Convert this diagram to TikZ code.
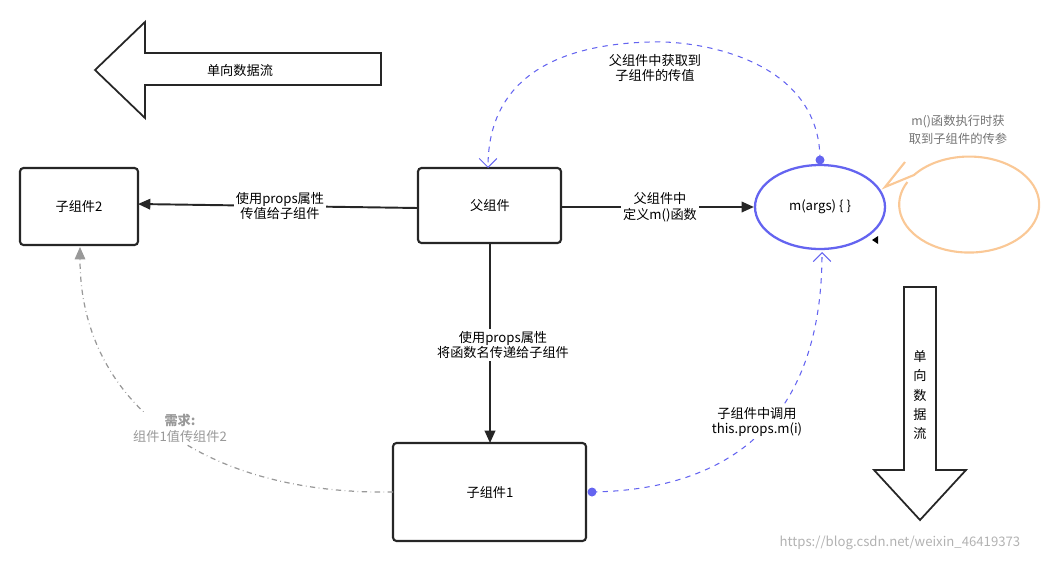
\documentclass[tikz,border=0pt]{standalone}
\usepackage{fontspec}
\setmainfont{Noto Sans CJK SC}
\usetikzlibrary{arrows.meta,shapes.geometric}
\definecolor{bl}{RGB}{100,100,240}
\definecolor{org}{RGB}{250,200,150}
\begin{document}
\begin{tikzpicture}[x=0.02cm,y=-0.02cm,
  box/.style={draw=black!85,line width=1.2pt,rounded corners=2pt},
  lbl/.style={fill=white,inner sep=1pt,align=center,font=\fontsize{7.5}{9}\selectfont},
  con/.style={line width=1.1pt,black!85,-{Triangle[length=7pt,width=6pt]}},
  blu/.style={dashed,draw=bl,line width=0.6pt},
  big/.style={draw=black!85,line width=1pt,fill=white}]
\useasboundingbox (0,0) rectangle (1050,561);
% arrows
\draw[big] (95,70) -- (145,22) -- (145,53) -- (381,53) -- (381,85) -- (145,85) -- (145,118) -- cycle;
\node[font=\fontsize{7.5}{9}\selectfont] (t1) at (240,70) {单向数据流};
\draw[big] (904,287) -- (936,287) -- (936,470) -- (966,470) -- (920,520) -- (874,470) -- (904,470) -- cycle;
\node[align=center,font=\fontsize{7.5}{11}\selectfont] (t2) at (920,395) {单\\向\\数\\据\\流};
% nodes
\draw[box] (20,168) rectangle (138,245); \node (c2) at (79,206) {\fontsize{7.5}{9}\selectfont 子组件2};
\draw[box] (418,168) rectangle (561,243); \node (p) at (490,206) {\fontsize{7.5}{9}\selectfont 父组件};
\draw[box] (393,443) rectangle (586,541); \node (c1) at (490,492) {\fontsize{7.5}{9}\selectfont 子组件1};
\node[ellipse,draw=bl,line width=1.3pt,inner sep=0pt,minimum width=2.6cm,minimum height=1.68cm,font=\fontsize{7.5}{9}\selectfont] (m) at (820,207) {m(args) \{ \}};
% bubble
\draw[draw=org,line width=1.2pt,fill=white]
  (905,162) -- (885,187) -- (914,175) arc[start angle=-142,end angle=208,x radius=70,y radius=48];
\node[align=center,text=black!55,font=\fontsize{7}{10}\selectfont] (b) at (958,130) {m()函数执行时获\\取到子组件的传参};
\fill[black] (872,240) -- (878,236) -- (878,244) -- cycle;
% connectors
\draw[con] (418,208) -- (138,204);
\node[lbl] at (280,206) {使用props属性\\传值给子组件};
\draw[con] (561,207) -- (m.west);
\node[lbl] at (660,207) {父组件中\\定义m()函数};
\draw[con] (490,243) -- (490,443);
\node[lbl] at (503,345) {使用props属性\\将函数名传递给子组件};
\draw[blu,-{Straight Barb[length=5pt]}] (820,160) .. controls (820,60) and (700,40) .. (650,42) .. controls (540,45) and (488,90) .. (488,168);
\fill[bl] (820,160) circle (4.5);
\node[lbl] at (655,68) {父组件中获取到\\子组件的传值};
\draw[blu,-{Straight Barb[length=5pt]}] (592,492) .. controls (720,490) and (822,430) .. (822,252);
\fill[bl] (592,492) circle (4.5);
\node[lbl] at (757,422) {子组件中调用\\this.props.m(i)};
\draw[black!40,dash dot,line width=0.7pt,-{Triangle[length=7pt,width=6pt]}] (393,492) .. controls (200,495) and (80,400) .. (80,247);
\node[lbl,text=black!40] at (180,428) {\textbf{需求:}\\组件1值传组件2};
\node[text=black!30,font=\fontsize{7.5}{9}\selectfont] (w) at (900,543) {https://blog.csdn.net/weixin\_46419373};
\end{tikzpicture}
\end{document}
